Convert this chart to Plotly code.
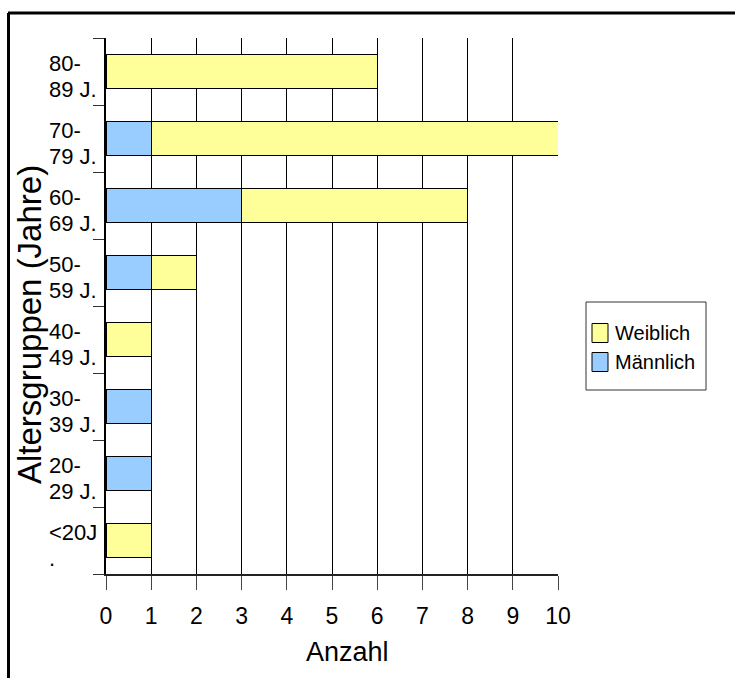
import plotly.graph_objects as go

# Age groups (bottom to top) and counts per sex
age_groups = ["<20J.", "20-29 J.", "30-39 J.", "40-49 J.", "50-59 J.", "60-69 J.", "70-79 J.", "80-89 J."]
label_line1 = ["<20J", "20-", "30-", "40-", "50-", "60-", "70-", "80-"]
label_line2 = [".", "29 J.", "39 J.", "49 J.", "59 J.", "69 J.", "79 J.", "89 J."]
maennlich = [0, 1, 1, 0, 1, 3, 1, 0]
weiblich = [1, 0, 0, 1, 1, 5, 9, 6]
x_ticks = list(range(0, 11))

colors = {"Männlich": "#99CCFF", "Weiblich": "#FFFF99"}

W, H = 735, 678
L, R, T, B = 106, 177, 38, 104
pw, ph = W - L - R, H - T - B


def px_x(p):
    return (p - L) / pw


def px_y(p):
    return (H - B - p) / ph


font = "Arial, 'Liberation Sans', sans-serif"

fig = go.Figure()
fig.add_trace(go.Bar(
    y=age_groups, x=maennlich, name="Männlich", orientation="h",
    marker=dict(color=colors["Männlich"], line=dict(color="black", width=1)),
))
fig.add_trace(go.Bar(
    y=age_groups, x=weiblich, name="Weiblich", orientation="h",
    marker=dict(color=colors["Weiblich"], line=dict(color="black", width=1)),
))

annotations = []
# two-line category labels, left aligned with tight line spacing
for cat, l1, l2 in zip(age_groups, label_line1, label_line2):
    for txt, shift in ((l1, 8.5), (l2, -17.5)):
        annotations.append(dict(
            x=px_x(47), xref="paper", xanchor="left", y=cat, yref="y", yanchor="middle",
            text=txt, showarrow=False, yshift=shift,
            font=dict(family=font, size=22, color="black"),
        ))

# axis titles
annotations.append(dict(
    x=px_x(29), xref="paper", y=px_y(325), yref="paper", text="Altersgruppen (Jahre)",
    textangle=-90, showarrow=False, xanchor="center", yanchor="middle",
    font=dict(family=font, size=33, color="black"),
))
annotations.append(dict(
    x=px_x(347), xref="paper", y=px_y(652), yref="paper", text="Anzahl",
    showarrow=False, xanchor="center", yanchor="middle",
    font=dict(family=font, size=27, color="black"),
))

shapes = [
    # figure frame (top and left edges)
    dict(type="line", xref="paper", yref="paper", x0=px_x(8), x1=px_x(740),
         y0=px_y(13), y1=px_y(13), line=dict(color="black", width=3)),
    dict(type="line", xref="paper", yref="paper", x0=px_x(8.5), x1=px_x(8.5),
         y0=px_y(13), y1=px_y(690), line=dict(color="black", width=3)),
    # legend box
    dict(type="rect", xref="paper", yref="paper", x0=px_x(586), x1=px_x(706),
         y0=px_y(302), y1=px_y(390), line=dict(color="#333333", width=1),
         fillcolor="white"),
]

# legend entries: Weiblich on top, Männlich below
for i, name in enumerate(["Weiblich", "Männlich"]):
    cy = 333 + 29 * i
    shapes.append(dict(
        type="rect", xref="paper", yref="paper", x0=px_x(592), x1=px_x(608),
        y0=px_y(cy - 9.5), y1=px_y(cy + 9.5), fillcolor=colors[name],
        line=dict(color="black", width=1),
    ))
    annotations.append(dict(
        x=px_x(613), xref="paper", xanchor="left", y=px_y(cy), yref="paper",
        yanchor="middle", text=name, showarrow=False,
        font=dict(family=font, size=20, color="black"),
    ))

fig.update_layout(
    width=W, height=H,
    margin=dict(l=L, r=R, t=T, b=B),
    barmode="stack", bargap=0.5,
    showlegend=False,
    paper_bgcolor="white", plot_bgcolor="white",
    font=dict(family=font, size=23, color="black"),
    xaxis=dict(
        range=[0, 10], tickvals=x_ticks, showgrid=True, gridcolor="black", gridwidth=1,
        showline=True, linecolor="#222222", linewidth=2, ticks="outside", ticklen=14,
        tickcolor="#444444", zeroline=False, ticklabelstandoff=6,
        tickfont=dict(size=23),
    ),
    yaxis=dict(
        showticklabels=False, showgrid=False, showline=True, linecolor="black",
        linewidth=2, ticks="outside", ticklen=11, tickcolor="#333333",
        tickson="boundaries", zeroline=False,
    ),
    annotations=annotations,
    shapes=shapes,
)

fig.write_html("out.html")
